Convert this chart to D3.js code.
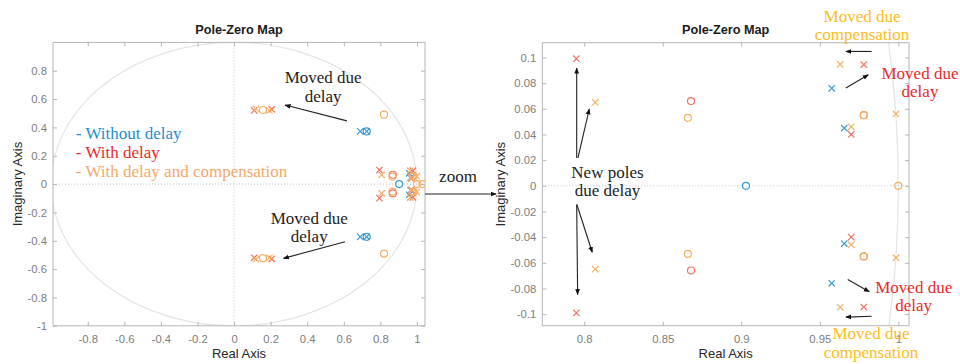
<!DOCTYPE html>
<html><head><meta charset="utf-8">
<script src="https://cdn.jsdelivr.net/npm/d3@7"></script>
<style>body{margin:0;background:#fff}svg{display:block}</style>
</head><body><svg id="c" width="960" height="364"></svg>
<script>
// ---------------- DATA ----------------
const seriesNames = ["Without delay", "With delay", "With delay and compensation"];
// poles / zeros as [real, imag]
const polesWithout = [[0.690,0.372],[0.725,0.372],[0.690,-0.372],[0.725,-0.372],[0.9576,0.076],[0.9576,-0.076],[0.9656,0.045],[0.9656,-0.045]];
const zerosWithout = [[0.725,0.372],[0.725,-0.372],[0.903,0]];
const polesDelay   = [[0.110,0.520],[0.206,0.527],[0.110,-0.520],[0.206,-0.527],[0.795,0.099],[0.795,-0.099],[0.978,0.0945],[0.978,-0.0945],[0.970,0.040],[0.970,-0.040]];
const zerosDelay   = [[0.868,0.066],[0.868,-0.066],[0.978,0.055],[0.978,-0.055]];
const polesComp    = [[0.120,0.530],[0.193,0.520],[0.120,-0.530],[0.193,-0.520],[0.807,0.065],[0.807,-0.065],[0.963,0.0947],[0.963,-0.0947],[0.970,0.046],[0.970,-0.046],[0.9985,0.056],[0.9985,-0.056]];
const zerosComp    = [[0.158,0.523],[0.158,-0.523],[0.820,0.490],[0.820,-0.490],[0.866,0.053],[0.866,-0.053],[0.978,0.055],[0.978,-0.055],[1.000,0],[1.030,0]];

const leftXTicks  = [-0.8,-0.6,-0.4,-0.2,0,0.2,0.4,0.6,0.8,1];
const leftYTicks  = [-1,-0.8,-0.6,-0.4,-0.2,0,0.2,0.4,0.6,0.8];
const rightXTicks = [0.8,0.85,0.9,0.95,1];
const rightYTicks = [-0.1,-0.08,-0.06,-0.04,-0.02,0,0.02,0.04,0.06,0.08,0.1];

const titleText = "Pole-Zero Map";
const xLabelText = "Real Axis";
const yLabelText = "Imaginary Axis";

// ---------------- STYLE ----------------
const markerColors = ["#3a9ad9", "#f2725f", "#f6b064"];
const legendColors = ["#1f8dd0", "#ea2a2a", "#f5a86a"];
const annRed = "#ea2a2a", annGold = "#fbbd1c", annBlack = "#222";
const serif = "'Liberation Serif','Times New Roman',serif";
const sans = "'Liberation Sans',Arial,Helvetica,sans-serif";

const svg = d3.select("#c");
svg.append("rect").attr("width",960).attr("height",364).attr("fill","#fff");
const defs = svg.append("defs");
defs.append("marker").attr("id","ah").attr("viewBox","0 0 10 10").attr("refX",9).attr("refY",5)
  .attr("markerWidth",6).attr("markerHeight",6).attr("markerUnits","userSpaceOnUse").attr("orient","auto")
  .append("path").attr("d","M0,1L10,5L0,9Z").attr("fill","#111");

const allSeries = [
  {poles: polesWithout, zeros: zerosWithout},
  {poles: polesDelay, zeros: zerosDelay},
  {poles: polesComp, zeros: zerosComp}
];

function fmt(d){ return String(+d.toFixed(3)); }

function makePlot(id, xDom, xRange, yDom, yRange, xT, yT, ylabX, drawVertZero){
  const x = d3.scaleLinear().domain(xDom).range(xRange);
  const y = d3.scaleLinear().domain(yDom).range(yRange);
  const g = svg.append("g");
  const [x0,x1] = xRange, [y0,y1] = [yRange[1], yRange[0]];
  defs.append("clipPath").attr("id","clip"+id).append("rect")
    .attr("x",x0).attr("y",y0).attr("width",x1-x0).attr("height",y1-y0);
  const pg = g.append("g").attr("clip-path","url(#clip"+id+")");
  // unit circle
  pg.append("ellipse").attr("cx",x(0)).attr("cy",y(0)).attr("rx",x(1)-x(0)).attr("ry",y(0)-y(1))
    .attr("fill","none").attr("stroke","#e4e4e4").attr("stroke-width",1.2);
  // zero lines
  pg.append("line").attr("x1",x0).attr("x2",x1).attr("y1",y(0)).attr("y2",y(0))
    .attr("stroke","#c4c4c4").attr("stroke-dasharray","1,2");
  if (drawVertZero) pg.append("line").attr("x1",x(0)).attr("x2",x(0)).attr("y1",y0).attr("y2",y1)
    .attr("stroke","#c4c4c4").attr("stroke-dasharray","1,2");
  // axes
  const axCol = "#b5b5b5", lblCol = "#7d7d7d";
  const styleAx = sel => { sel.select(".domain").remove(); sel.selectAll(".tick line").attr("stroke",axCol);
    sel.selectAll("text").attr("fill",lblCol).style("font-family",sans).style("font-size","11.3px"); };
  g.append("g").attr("transform",`translate(0,${y1})`).call(d3.axisBottom(x).tickValues(xT).tickSize(-4).tickPadding(9).tickFormat(fmt)).call(styleAx);
  g.append("g").attr("transform",`translate(0,${y0})`).call(d3.axisTop(x).tickValues(xT).tickSize(-4).tickFormat("")).call(styleAx);
  g.append("g").attr("transform",`translate(${x0},0)`).call(d3.axisLeft(y).tickValues(yT).tickSize(-4).tickPadding(6).tickFormat(fmt)).call(styleAx);
  g.append("g").attr("transform",`translate(${x1},0)`).call(d3.axisRight(y).tickValues(yT).tickSize(-4).tickFormat("")).call(styleAx);
  g.append("rect").attr("x",x0).attr("y",y0).attr("width",x1-x0).attr("height",y1-y0)
    .attr("fill","none").attr("stroke",axCol).attr("stroke-width",1);
  // markers
  allSeries.forEach((s,i) => {
    pg.selectAll(null).data(s.zeros).enter().append("circle")
      .attr("cx",d=>x(d[0])).attr("cy",d=>y(d[1])).attr("r",3.5)
      .attr("fill","none").attr("stroke",markerColors[i]).attr("stroke-width",1.2);
    pg.selectAll(null).data(s.poles).enter().append("path")
      .attr("d",d=>{const cx=x(d[0]), cy=y(d[1]), h=3.2; return `M${cx-h},${cy-h}L${cx+h},${cy+h}M${cx-h},${cy+h}L${cx+h},${cy-h}`;})
      .attr("fill","none").attr("stroke",markerColors[i]).attr("stroke-width",1.2);
  });
  // labels
  const cx = (x0+x1)/2;
  g.append("text").attr("x",cx).attr("y",34).attr("text-anchor","middle")
    .style("font-family",sans).style("font-size","12.7px").style("font-weight","bold").attr("fill","#1a1a1a").text(titleText);
  g.append("text").attr("x",cx).attr("y",358).attr("text-anchor","middle")
    .style("font-family",sans).style("font-size","13px").attr("fill","#262626").text(xLabelText);
  g.append("text").attr("transform",`translate(${ylabX},${(y0+y1)/2}) rotate(-90)`).attr("text-anchor","middle")
    .attr("dy","0.35em").style("font-family",sans).style("font-size","13px").attr("fill","#262626").text(yLabelText);
  return {x, y, g};
}

const L = makePlot("L", [-0.99,1.044], [53,425], [-1,1], [325.8,42.4], leftXTicks, leftYTicks, 17, true);
const R = makePlot("R", [0.7733,1.0068], [542.3,909], [-0.109,0.1115], [325.7,42.7], rightXTicks, rightYTicks, 500, false);

// ---------------- ANNOTATIONS ----------------
function note(P, xv, yv, lines, color, anchor){
  const t = svg.append("text").attr("x",P.x(xv)).attr("y",P.y(yv)).attr("text-anchor",anchor||"middle")
    .style("font-family",serif).style("font-size","17px").attr("fill",color);
  lines.forEach((s,i)=> t.append("tspan").attr("x",P.x(xv)).attr("dy", i===0?0:18.3).text(s));
}
function arrow(P, a, b){
  svg.append("line").attr("x1",P.x(a[0])).attr("y1",P.y(a[1])).attr("x2",P.x(b[0])).attr("y2",P.y(b[1]))
    .attr("stroke","#222").attr("stroke-width",1.1).attr("marker-end","url(#ah)");
}

// left
note(L, 0.487, 0.712, ["Moved due","delay"], annBlack);
arrow(L, [0.617,0.446], [0.279,0.558]);
note(L, 0.411, -0.282, ["Moved due","delay"], annBlack);
arrow(L, [0.607,-0.407], [0.270,-0.524]);
seriesNames.forEach((s,i)=> note(L, -0.865, 0.316 - i*0.134, ["- " + s], legendColors[i], "start"));

// zoom connector
svg.append("line").attr("x1",L.x(1.044)).attr("y1",L.y(-0.07)).attr("x2",496).attr("y2",L.y(-0.07))
  .attr("stroke","#222").attr("stroke-width",1.1).attr("marker-end","url(#ah)");
svg.append("text").attr("x",458).attr("y",182).attr("text-anchor","middle")
  .style("font-family",serif).style("font-size","17px").attr("fill",annBlack).text("zoom");

// right
note(R, 0.8148, 0.00615, ["New poles","due delay"], annBlack);
arrow(R, [0.7952,0.0217], [0.7952,0.0917]);
arrow(R, [0.7960,0.0217], [0.8032,0.0598]);
arrow(R, [0.7952,-0.0146], [0.7958,-0.0847]);
arrow(R, [0.7953,-0.0146], [0.8051,-0.0518]);

note(R, 0.9769, 0.128, ["Moved due","compensation"], annGold);
arrow(R, [0.983,0.1047], [0.9666,0.1047]);
arrow(R, [0.9666,0.0762], [0.9809,0.0865]);
note(R, 1.0138, 0.0834, ["Moved due","delay"], annRed);

arrow(R, [0.9678,-0.073], [0.9815,-0.0826]);
note(R, 1.0098, -0.0833, ["Moved due","delay"], annRed);
arrow(R, [0.983,-0.1016], [0.9666,-0.1023]);
note(R, 0.9826, -0.1197, ["Moved due","compensation"], annGold);
</script></body></html>
